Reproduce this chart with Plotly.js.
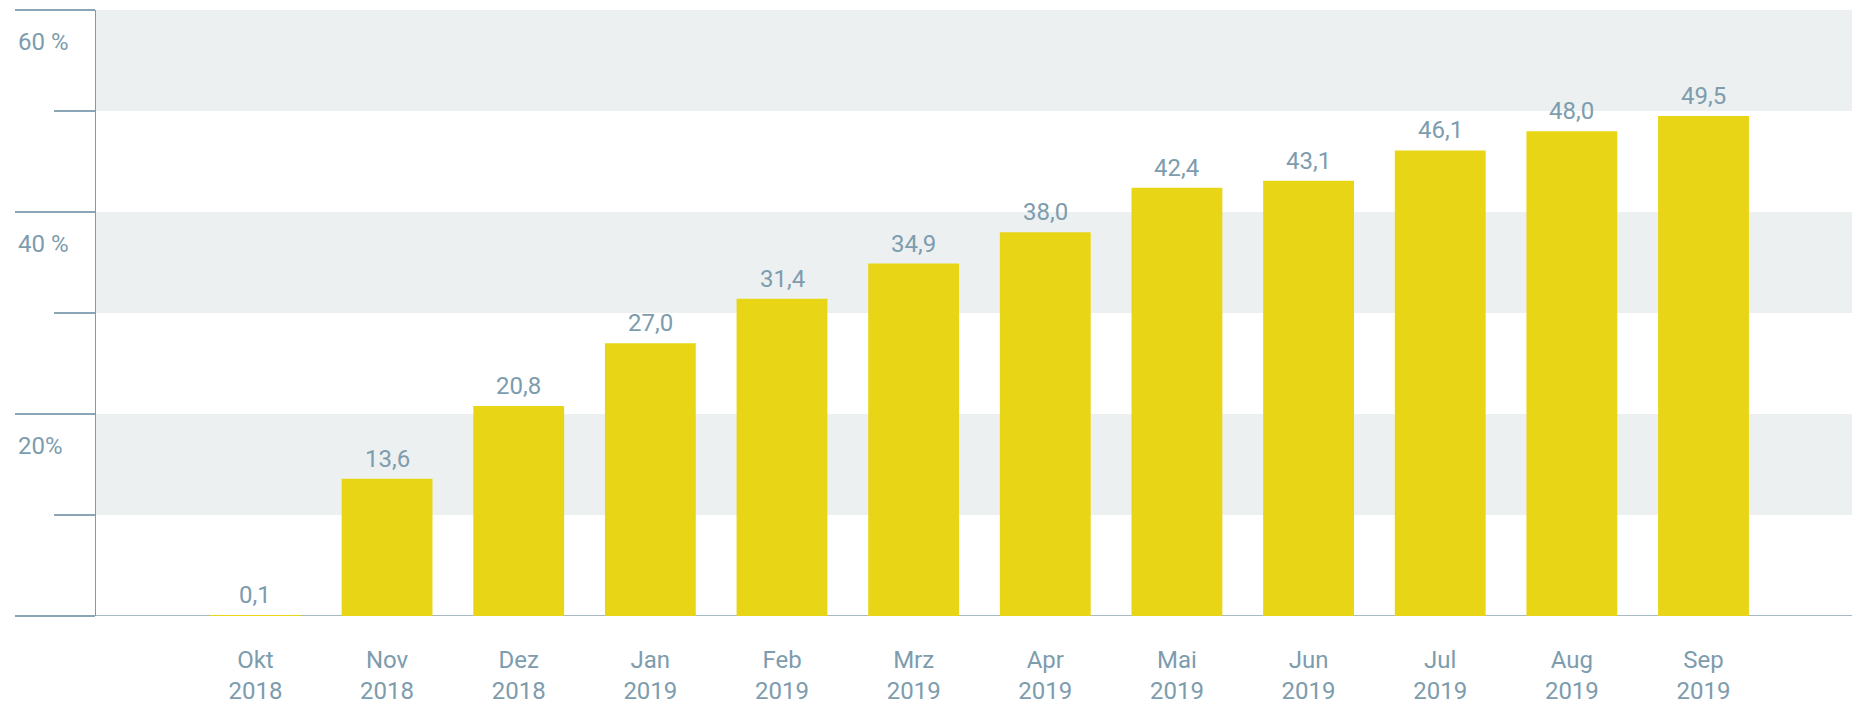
<!DOCTYPE html>
<html>
<head>
<meta charset="utf-8">
<script src="https://cdn.plot.ly/plotly-3.0.1.min.js"></script>
<style>
  html, body { margin: 0; padding: 0; background: #ffffff; }
  #chart { width: 1852px; height: 707px; }
</style>
</head>
<body>
<div id="chart"></div>
<script>
// ---- data ----
const months = ["Okt", "Nov", "Dez", "Jan", "Feb", "Mrz", "Apr", "Mai", "Jun", "Jul", "Aug", "Sep"];
const years = ["2018", "2018", "2018", "2019", "2019", "2019", "2019", "2019", "2019", "2019", "2019", "2019"];
const values = [0.1, 13.6, 20.8, 27.0, 31.4, 34.9, 38.0, 42.4, 43.1, 46.1, 48.0, 49.5];
const valueLabels = ["0,1", "13,6", "20,8", "27,0", "31,4", "34,9", "38,0", "42,4", "43,1", "46,1", "48,0", "49,5"];
const yLabelVals = [60, 40, 20];
const yLabelTexts = ["60 %", "40 %", "20%"];
const bandRanges = [[10, 20], [30, 40], [50, 60]];

// ---- styles ----
const txtColor = "#7d9cae";
const barColor = "#e8d515";
const bandColor = "#ecf0f1";
const fontFam = "Roboto, 'DejaVu Sans', sans-serif";
const leftPaper = -0.0456; // left end of long ticks / baseline

const idx = months.map((_, i) => i);
const ticktext = months.map((m, i) => m + "<br>" + years[i]);

const trace = {
  type: "bar",
  x: idx,
  y: values,
  width: 0.69,
  marker: { color: barColor },
  hoverinfo: "skip"
};

const shapes = bandRanges.map(r => ({
  type: "rect", xref: "paper", yref: "y", x0: 0, x1: 1, y0: r[0], y1: r[1],
  fillcolor: bandColor, line: { width: 0 }, layer: "below"
}));
shapes.push({
  type: "line", xref: "paper", yref: "y", x0: leftPaper, x1: 1, y0: 0, y1: 0,
  line: { color: "#a7bac4", width: 2 }, layer: "below"
});

const annotations = values.map((v, i) => ({
  x: i, y: v, xref: "x", yref: "y", text: valueLabels[i], showarrow: false,
  yanchor: "bottom", yshift: 4, font: { family: fontFam, size: 24, color: txtColor }
})).concat(yLabelVals.map((v, i) => ({
  x: leftPaper, y: v, xref: "paper", yref: "y", text: yLabelTexts[i], showarrow: false,
  xanchor: "left", yanchor: "middle", yshift: -32,
  font: { family: fontFam, size: 24, color: txtColor }
})));

const layout = {
  width: 1852, height: 707,
  margin: { l: 96, r: 0, t: 10, b: 91 },
  paper_bgcolor: "#ffffff",
  plot_bgcolor: "#ffffff",
  showlegend: false,
  font: { family: fontFam, color: txtColor },
  xaxis: {
    range: [-1.211, 12.128],
    tickvals: idx,
    ticktext: ticktext,
    ticks: "",
    showgrid: false,
    zeroline: false,
    showline: false,
    tickfont: { family: fontFam, size: 24, color: txtColor },
    ticklabelstandoff: 27
  },
  yaxis: {
    range: [0, 60],
    showgrid: false,
    zeroline: false,
    showline: true,
    linecolor: "#7d9cae",
    linewidth: 1.5,
    ticks: "outside",
    tickvals: [0, 20, 40, 60],
    ticklen: 80,
    tickwidth: 1.5,
    tickcolor: "#8aa6b6",
    showticklabels: false,
    minor: { tickvals: [10, 30, 50], ticks: "outside", ticklen: 41, tickwidth: 1.5, tickcolor: "#8aa6b6" }
  },
  bargap: 0.31,
  shapes: shapes,
  annotations: annotations
};

Plotly.newPlot("chart", [trace], layout, { displayModeBar: false, staticPlot: true });
</script>
</body>
</html>
